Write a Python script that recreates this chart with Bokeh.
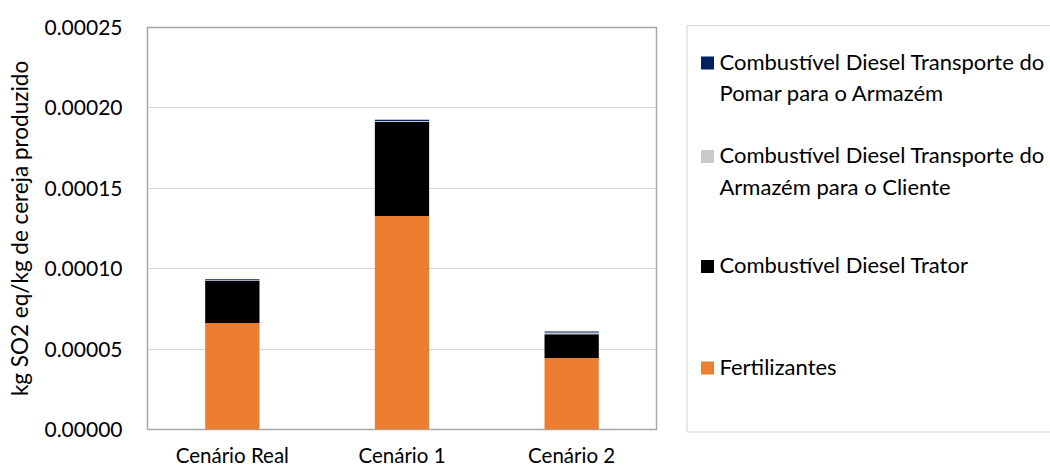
from bokeh.plotting import figure
from bokeh.layouts import row
from bokeh.models import FactorRange, Range1d, NumeralTickFormatter, FixedTicker, ColumnDataSource
from bokeh.core.properties import value
from bokeh.embed import file_html
from bokeh.resources import INLINE

# ---- data ----
categories = ["Cenário Real", "Cenário 1", "Cenário 2"]
fertilizantes = [6.63e-5, 1.328e-4, 4.44e-5]
diesel_trator = [2.60e-5, 5.84e-5, 1.49e-5]
diesel_armazem_cliente = [0.5e-6, 0.7e-6, 1.0e-6]
diesel_pomar_armazem = [0.7e-6, 0.7e-6, 0.6e-6]
y_ticks = [0.0, 0.00005, 0.0001, 0.00015, 0.0002, 0.00025]
y_label = "kg SO2 eq/kg de cereja produzido"

series_keys = ["fert", "trator", "cliente", "pomar"]
series_colors = ["#ED7D31", "#000000", "#C9C9C9", "#002060"]
legend_lines = {
    "pomar": ["Combustível Diesel Transporte do", "Pomar para o Armazém"],
    "cliente": ["Combustível Diesel Transporte do", "Armazém para o Cliente"],
    "trator": ["Combustível Diesel Trator"],
    "fert": ["Fertilizantes"],
}
legend_order = ["pomar", "cliente", "trator", "fert"]

FONT = "Lato"
TEXT_COLOR = "#000000"

source = ColumnDataSource(dict(cat=categories, fert=fertilizantes, trator=diesel_trator,
                               cliente=diesel_armazem_cliente, pomar=diesel_pomar_armazem))

H = 469
MW = 680
p = figure(x_range=FactorRange(*categories), y_range=Range1d(0, 0.00025),
           width=MW, height=H, output_backend="svg", toolbar_location=None,
           min_border_left=147, min_border_right=24, min_border_top=27, min_border_bottom=39,
           frame_align=False)
p.title.visible = False

p.vbar_stack(series_keys, x="cat", width=0.32, source=source,
             fill_color=series_colors, line_color=None)

p.outline_line_color = "#a6a6a6"
p.outline_line_width = 1.5
p.xgrid.grid_line_color = None
p.ygrid.grid_line_color = "#d9d9d9"
p.ygrid.grid_line_width = 1

p.yaxis.ticker = FixedTicker(ticks=y_ticks)
p.yaxis.formatter = NumeralTickFormatter(format="0.00000")
for ax in (p.xaxis, p.yaxis):
    ax.axis_line_color = None
    ax.major_tick_line_color = None
    ax.minor_tick_line_color = None
    ax.major_tick_out = 0
    ax.major_tick_in = 0
    ax.major_label_text_font = FONT
    ax.major_label_text_color = TEXT_COLOR
p.yaxis.major_label_text_font_size = "21px"
p.xaxis.major_label_text_font_size = "20.5px"
p.yaxis.major_label_standoff = 25
p.xaxis.major_label_standoff = 13
p.yaxis.axis_label = y_label
p.yaxis.axis_label_text_font = FONT
p.yaxis.axis_label_text_font_size = "22.5px"
p.yaxis.axis_label_text_font_style = "normal"
p.yaxis.axis_label_text_color = TEXT_COLOR
p.yaxis.axis_label_standoff = 8

# ---- legend panel ----
LW, LH = 1050 - MW, H
lg = figure(width=LW, height=LH, x_range=Range1d(0, LW), y_range=Range1d(LH, 0),
            output_backend="svg", toolbar_location=None, min_border=0,
            x_axis_location=None, y_axis_location=None, frame_align=False)
lg.title.visible = False
lg.grid.visible = False
lg.outline_line_color = None
lg.quad(left=[6.5], right=[LW + 50], top=[25], bottom=[431.5],
        fill_color="white", line_color="#d9d9d9", line_width=1.2)

item_centers = [62.5, 156, 266, 367.5]
line_gap = 31.5
sq_x, sq_size, text_x = 27, 13, 39
color_of = dict(zip(series_keys, series_colors))
for key, yc in zip(legend_order, item_centers):
    lg.rect(x=[sq_x], y=[yc], width=sq_size, height=sq_size,
            fill_color=color_of[key], line_color=None)
    lines = legend_lines[key]
    ys = [yc - 2 + i * line_gap for i in range(len(lines))]
    lg.text(x=[text_x] * len(lines), y=ys, text=lines, text_font=value(FONT),
            text_font_size="22px", text_color=TEXT_COLOR, text_baseline="middle",
            text_align="left")

layout = row(p, lg)
open("out.html", "w").write(file_html(layout, INLINE))
